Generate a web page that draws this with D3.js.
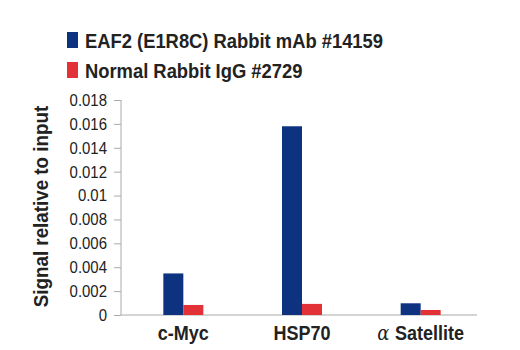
<!DOCTYPE html>
<html>
<head>
<meta charset="utf-8">
<script src="https://cdn.jsdelivr.net/npm/d3@7"></script>
<style>
  body { margin: 0; background: #fff; }
  text { font-family: "Liberation Sans", Arial, sans-serif; }
</style>
</head>
<body>
<div id="chart"></div>
<script>
const categories = ['c-Myc', 'HSP70', 'Satellite'];
const seriesNames = ['EAF2 (E1R8C) Rabbit mAb #14159', 'Normal Rabbit IgG #2729'];
const eafValues = [0.00348, 0.0158, 0.00098];
const iggValues = [0.00084, 0.00093, 0.00042];
const yTicks = [0, 0.002, 0.004, 0.006, 0.008, 0.01, 0.012, 0.014, 0.016, 0.018];
const colors = ['#0c3280', '#e23137'];

const width = 520, height = 350;
const margin = { top: 100, right: 43, bottom: 35, left: 121 };

const svg = d3.select('#chart').append('svg')
  .attr('width', width)
  .attr('height', height);

const x = d3.scaleBand()
  .domain(categories)
  .range([margin.left + 3, width - margin.right + 3])
  .paddingInner(0);

const x1 = d3.scaleBand()
  .domain([0, 1])
  .range([-20, 20]);

const y = d3.scaleLinear()
  .domain([0, 0.018])
  .range([height - margin.bottom, margin.top]);

// y axis
const yAxis = svg.append('g')
  .attr('transform', `translate(${margin.left},0)`)
  .call(d3.axisLeft(y).tickValues(yTicks).tickSize(7).tickPadding(6)
    .tickFormat(d => d === 0 ? '0' : String(+d.toFixed(3))));
yAxis.select('.domain').attr('stroke', '#aaa').attr('d', `M0,${y(0.018)}V${y(0)}`);
yAxis.selectAll('.tick line').attr('stroke', '#aaa');
yAxis.selectAll('.tick text')
  .attr('x', 0)
  .attr('transform', 'translate(-14,0) scale(0.88,1)')
  .attr('fill', '#222')
  .style('font-size', '17px');

// baseline
svg.append('line')
  .attr('x1', margin.left).attr('x2', width - margin.right)
  .attr('y1', y(0)).attr('y2', y(0))
  .attr('stroke', '#aaa').attr('stroke-width', 1);

// bars
const groups = svg.selectAll('g.grp')
  .data(categories)
  .enter().append('g')
  .attr('class', 'grp')
  .attr('transform', d => `translate(${x(d) + x.bandwidth() / 2},0)`);

groups.selectAll('rect')
  .data((d, i) => [eafValues[i], iggValues[i]])
  .enter().append('rect')
  .attr('x', (d, j) => x1(j))
  .attr('width', x1.bandwidth())
  .attr('y', d => y(d))
  .attr('height', d => y(0) - y(d))
  .attr('fill', (d, j) => colors[j]);

// category labels
const cat = svg.selectAll('text.cat')
  .data(categories)
  .enter().append('text')
  .attr('class', 'cat')
  .attr('transform', d => `translate(${x(d) + x.bandwidth() / 2},340) scale(0.9,1)`)
  .attr('text-anchor', 'middle')
  .style('font-size', '20px')
  .style('font-weight', 'bold')
  .attr('fill', '#222');
cat.filter(d => d === 'Satellite')
  .append('tspan')
  .style('font-weight', 'normal')
  .style('font-family', '"DejaVu Serif", serif')
  .style('font-style', 'italic')
  .text('α ');
cat.append('tspan').text(d => d);

// y title
svg.append('text')
  .attr('transform', `translate(48,${(y(0) + y(0.018)) / 2 - 1}) rotate(-90) scale(0.94,1)`)
  .attr('text-anchor', 'middle')
  .style('font-size', '20px')
  .style('font-weight', 'bold')
  .attr('fill', '#222')
  .text('Signal relative to input');

// legend
const legend = svg.selectAll('g.leg')
  .data(seriesNames)
  .enter().append('g')
  .attr('class', 'leg')
  .attr('transform', (d, i) => `translate(67,${32 + i * 30})`);

legend.append('rect')
  .attr('width', 11).attr('height', 16)
  .attr('fill', (d, i) => colors[i]);

legend.append('text')
  .attr('transform', 'translate(18,16) scale(0.875,1)')
  .style('font-size', '21px')
  .style('font-weight', 'bold')
  .attr('fill', '#222')
  .text(d => d);
</script>
</body>
</html>
